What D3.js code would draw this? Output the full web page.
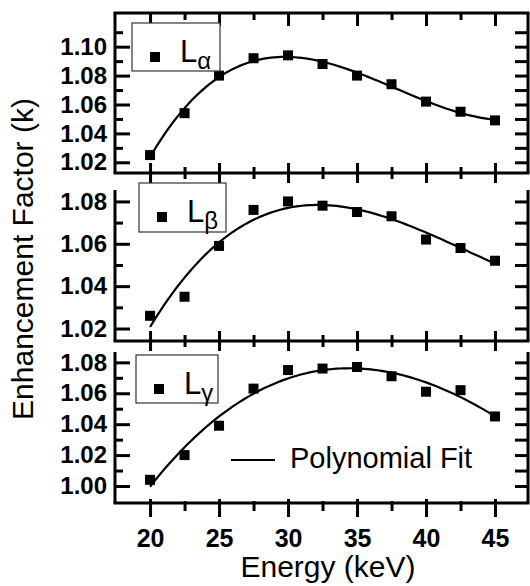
<!DOCTYPE html>
<html>
<head>
<meta charset="utf-8">
<script src="https://cdn.jsdelivr.net/npm/d3@7/dist/d3.min.js"></script>
<style>
  body { margin: 0; background: #fff; }
  svg { display: block; font-family: 'Liberation Sans', Arial, Helvetica, sans-serif; }
</style>
</head>
<body>
<svg id="chart" width="530" height="586"></svg>
<script>
// measured enhancement factors for each L sub-shell line
const energy = [20, 22.5, 25, 27.5, 30, 32.5, 35, 37.5, 40, 42.5, 45];
const kAlpha = [1.025, 1.054, 1.080, 1.092, 1.094, 1.088, 1.080, 1.074, 1.062, 1.055, 1.049];
const kBeta  = [1.026, 1.035, 1.059, 1.076, 1.080, 1.078, 1.075, 1.073, 1.062, 1.058, 1.052];
const kGamma = [1.004, 1.020, 1.039, 1.063, 1.075, 1.076, 1.077, 1.071, 1.061, 1.062, 1.045];

const energyTicks = [20, 25, 30, 35, 40, 45];
const energyMinor = [22.5, 27.5, 32.5, 37.5, 42.5];
const alphaTicks = [1.02, 1.04, 1.06, 1.08, 1.10];
const alphaMinor = [1.03, 1.05, 1.07, 1.09, 1.11];
const betaTicks = [1.02, 1.04, 1.06, 1.08];
const betaMinor = [1.03, 1.05, 1.07];
const gammaTicks = [1.00, 1.02, 1.04, 1.06, 1.08];
const gammaMinor = [1.01, 1.03, 1.05, 1.07];

const width = 530, height = 586;
const left = 115, right = 528;

const svg = d3.select('#chart');

const x = d3.scaleLinear().domain([17.46, 47.39]).range([left, right]);

const panels = [
  { sub: 'α', values: kAlpha, ticks: alphaTicks, minor: alphaMinor, degree: 4,
    domain: [1.0126, 1.1233], top: 13, bottom: 173, topFrame: true,
    box: { x: 132, y: 23, w: 88, h: 48 } },
  { sub: 'β', values: kBeta, ticks: betaTicks, minor: betaMinor, degree: 3,
    domain: [1.0141, 1.0854], top: 190, bottom: 341, topFrame: false,
    box: { x: 139, y: 183, w: 87, h: 49 } },
  { sub: 'γ', values: kGamma, ticks: gammaTicks, minor: gammaMinor, degree: 3,
    domain: [0.989, 1.0867], top: 352, bottom: 503, topFrame: false, last: true,
    box: { x: 136, y: 355, w: 82, h: 48 } }
];

// least squares polynomial fit (normal equations, centred x for stability)
function polyfit(xs, ys, deg) {
  const cx = d3.mean(xs), sx = 10;
  const n = deg + 1;
  const A = Array.from({ length: n }, () => new Array(n + 1).fill(0));
  xs.forEach((xv, i) => {
    const t = (xv - cx) / sx;
    for (let r = 0; r < n; r++) {
      for (let c = 0; c < n; c++) A[r][c] += Math.pow(t, r + c);
      A[r][n] += ys[i] * Math.pow(t, r);
    }
  });
  for (let p = 0; p < n; p++) {
    let best = p;
    for (let r = p + 1; r < n; r++) if (Math.abs(A[r][p]) > Math.abs(A[best][p])) best = r;
    [A[p], A[best]] = [A[best], A[p]];
    for (let r = 0; r < n; r++) {
      if (r === p) continue;
      const f = A[r][p] / A[p][p];
      for (let c = p; c <= n; c++) A[r][c] -= f * A[p][c];
    }
  }
  const coef = A.map((row, i) => row[n] / row[i]);
  return xv => {
    const t = (xv - cx) / sx;
    return coef.reduce((s, c, i) => s + c * Math.pow(t, i), 0);
  };
}

panels.forEach(p => {
  const y = d3.scaleLinear().domain(p.domain).range([p.bottom, p.top]);
  const g = svg.append('g');

  // left axis: ticks point inward, labels outside
  g.append('g')
    .attr('transform', `translate(${left},0)`)
    .call(d3.axisLeft(y).tickValues(p.ticks).tickSize(-15).tickPadding(8)
      .tickFormat(d3.format('.2f')))
    .call(a => a.select('.domain').remove())
    .call(a => a.selectAll('line').attr('stroke-width', 3))
    .call(a => a.selectAll('text')
      .attr('font-size', 24).attr('font-weight', 'bold').attr('fill', '#000')
      .style('font-family', 'Liberation Sans, Arial, sans-serif'));
  g.append('g')
    .attr('transform', `translate(${left},0)`)
    .call(d3.axisLeft(y).tickValues(p.minor).tickSize(-8).tickFormat(''))
    .call(a => a.select('.domain').remove())
    .call(a => a.selectAll('line').attr('stroke-width', 3));

  // right axis: inward ticks, no labels
  g.append('g')
    .attr('transform', `translate(${right},0)`)
    .call(d3.axisRight(y).tickValues(p.ticks.concat(p.minor)).tickSize(-13).tickFormat(''))
    .call(a => a.select('.domain').remove())
    .call(a => a.selectAll('line').attr('stroke-width', 3));

  // bottom axis: ticks cross the line
  const bottom = g.append('g').attr('transform', `translate(0,${p.bottom})`);
  bottom.call(d3.axisBottom(x).tickValues(energyTicks).tickSize(0).tickPadding(0)
      .tickFormat(p.last ? d3.format('d') : ''))
    .call(a => a.select('.domain').remove())
    .call(a => a.selectAll('line')
      .attr('y1', p.last ? -4 : -10).attr('y2', p.last ? 14 : 10).attr('stroke-width', 3))
    .call(a => a.selectAll('text')
      .attr('y', 44).attr('dy', null)
      .attr('font-size', 25).attr('font-weight', 'bold').attr('fill', '#000')
      .style('font-family', 'Liberation Sans, Arial, sans-serif'));
  g.append('g').attr('transform', `translate(0,${p.bottom})`)
    .call(d3.axisBottom(x).tickValues(energyMinor).tickSize(0).tickFormat(''))
    .call(a => a.select('.domain').remove())
    .call(a => a.selectAll('line')
      .attr('y1', p.last ? -2 : -6).attr('y2', p.last ? 8 : 6).attr('stroke-width', 3));

  if (p.topFrame) {
    g.append('g').attr('transform', `translate(0,${p.top})`)
      .call(d3.axisTop(x).tickValues(energyTicks).tickSize(-13).tickFormat(''))
      .call(a => a.select('.domain').remove())
      .call(a => a.selectAll('line').attr('stroke-width', 3));
    g.append('g').attr('transform', `translate(0,${p.top})`)
      .call(d3.axisTop(x).tickValues(energyMinor).tickSize(-7).tickFormat(''))
      .call(a => a.select('.domain').remove())
      .call(a => a.selectAll('line').attr('stroke-width', 3));
  }

  // frame lines
  const frame = [
    [left, p.top, left, p.bottom],
    [right, p.top, right, p.bottom],
    [left - 1.5, p.bottom, right + 1.5, p.bottom]
  ];
  if (p.topFrame) frame.push([left - 1.5, p.top, right + 1.5, p.top]);
  g.selectAll('.frame').data(frame).join('line')
    .attr('class', 'frame')
    .attr('x1', d => d[0]).attr('y1', d => d[1])
    .attr('x2', d => d[2]).attr('y2', d => d[3])
    .attr('stroke', '#000').attr('stroke-width', 3);

  // polynomial fit curve
  const fit = polyfit(energy, p.values, p.degree);
  const xs = d3.range(0, 101).map(i => 20 + i * 0.25);
  g.append('path')
    .datum(xs)
    .attr('fill', 'none')
    .attr('stroke', '#000')
    .attr('stroke-width', 2.2)
    .attr('d', d3.line().x(d => x(d)).y(d => y(fit(d))));

  // data points
  g.selectAll('.pt').data(energy).join('rect')
    .attr('class', 'pt')
    .attr('x', d => x(d) - 5)
    .attr('y', (d, i) => y(p.values[i]) - 5)
    .attr('width', 10).attr('height', 10)
    .attr('fill', '#000');

  // legend box with symbol and line name
  const b = p.box;
  const lg = svg.append('g').attr('transform', `translate(${b.x},${b.y})`);
  lg.append('rect')
    .attr('width', b.w).attr('height', b.h)
    .attr('fill', '#fff').attr('stroke', '#333').attr('stroke-width', 1.2);
  lg.append('rect')
    .attr('x', 18).attr('y', 29).attr('width', 10).attr('height', 10)
    .attr('fill', '#000');
  const lt = lg.append('text')
    .attr('x', 48).attr('y', 39)
    .attr('font-size', 31).attr('fill', '#000');
  lt.append('tspan').text('L');
  lt.append('tspan').attr('dy', 7).attr('font-size', 24).text(p.sub);
});

// fit line key in the bottom panel
svg.append('line')
  .attr('x1', 231).attr('x2', 275).attr('y1', 460).attr('y2', 460)
  .attr('stroke', '#000').attr('stroke-width', 2.2);
svg.append('text')
  .attr('x', 290).attr('y', 468)
  .attr('font-size', 29).attr('fill', '#000')
  .text('Polynomial Fit');

// axis titles
svg.append('text')
  .attr('x', 328).attr('y', 577)
  .attr('text-anchor', 'middle')
  .attr('font-size', 30).attr('fill', '#000')
  .text('Energy (keV)');
svg.append('text')
  .attr('transform', 'translate(33,259) rotate(-90)')
  .attr('text-anchor', 'middle')
  .attr('font-size', 30).attr('fill', '#000')
  .text('Enhancement Factor (k)');
</script>
</body>
</html>
